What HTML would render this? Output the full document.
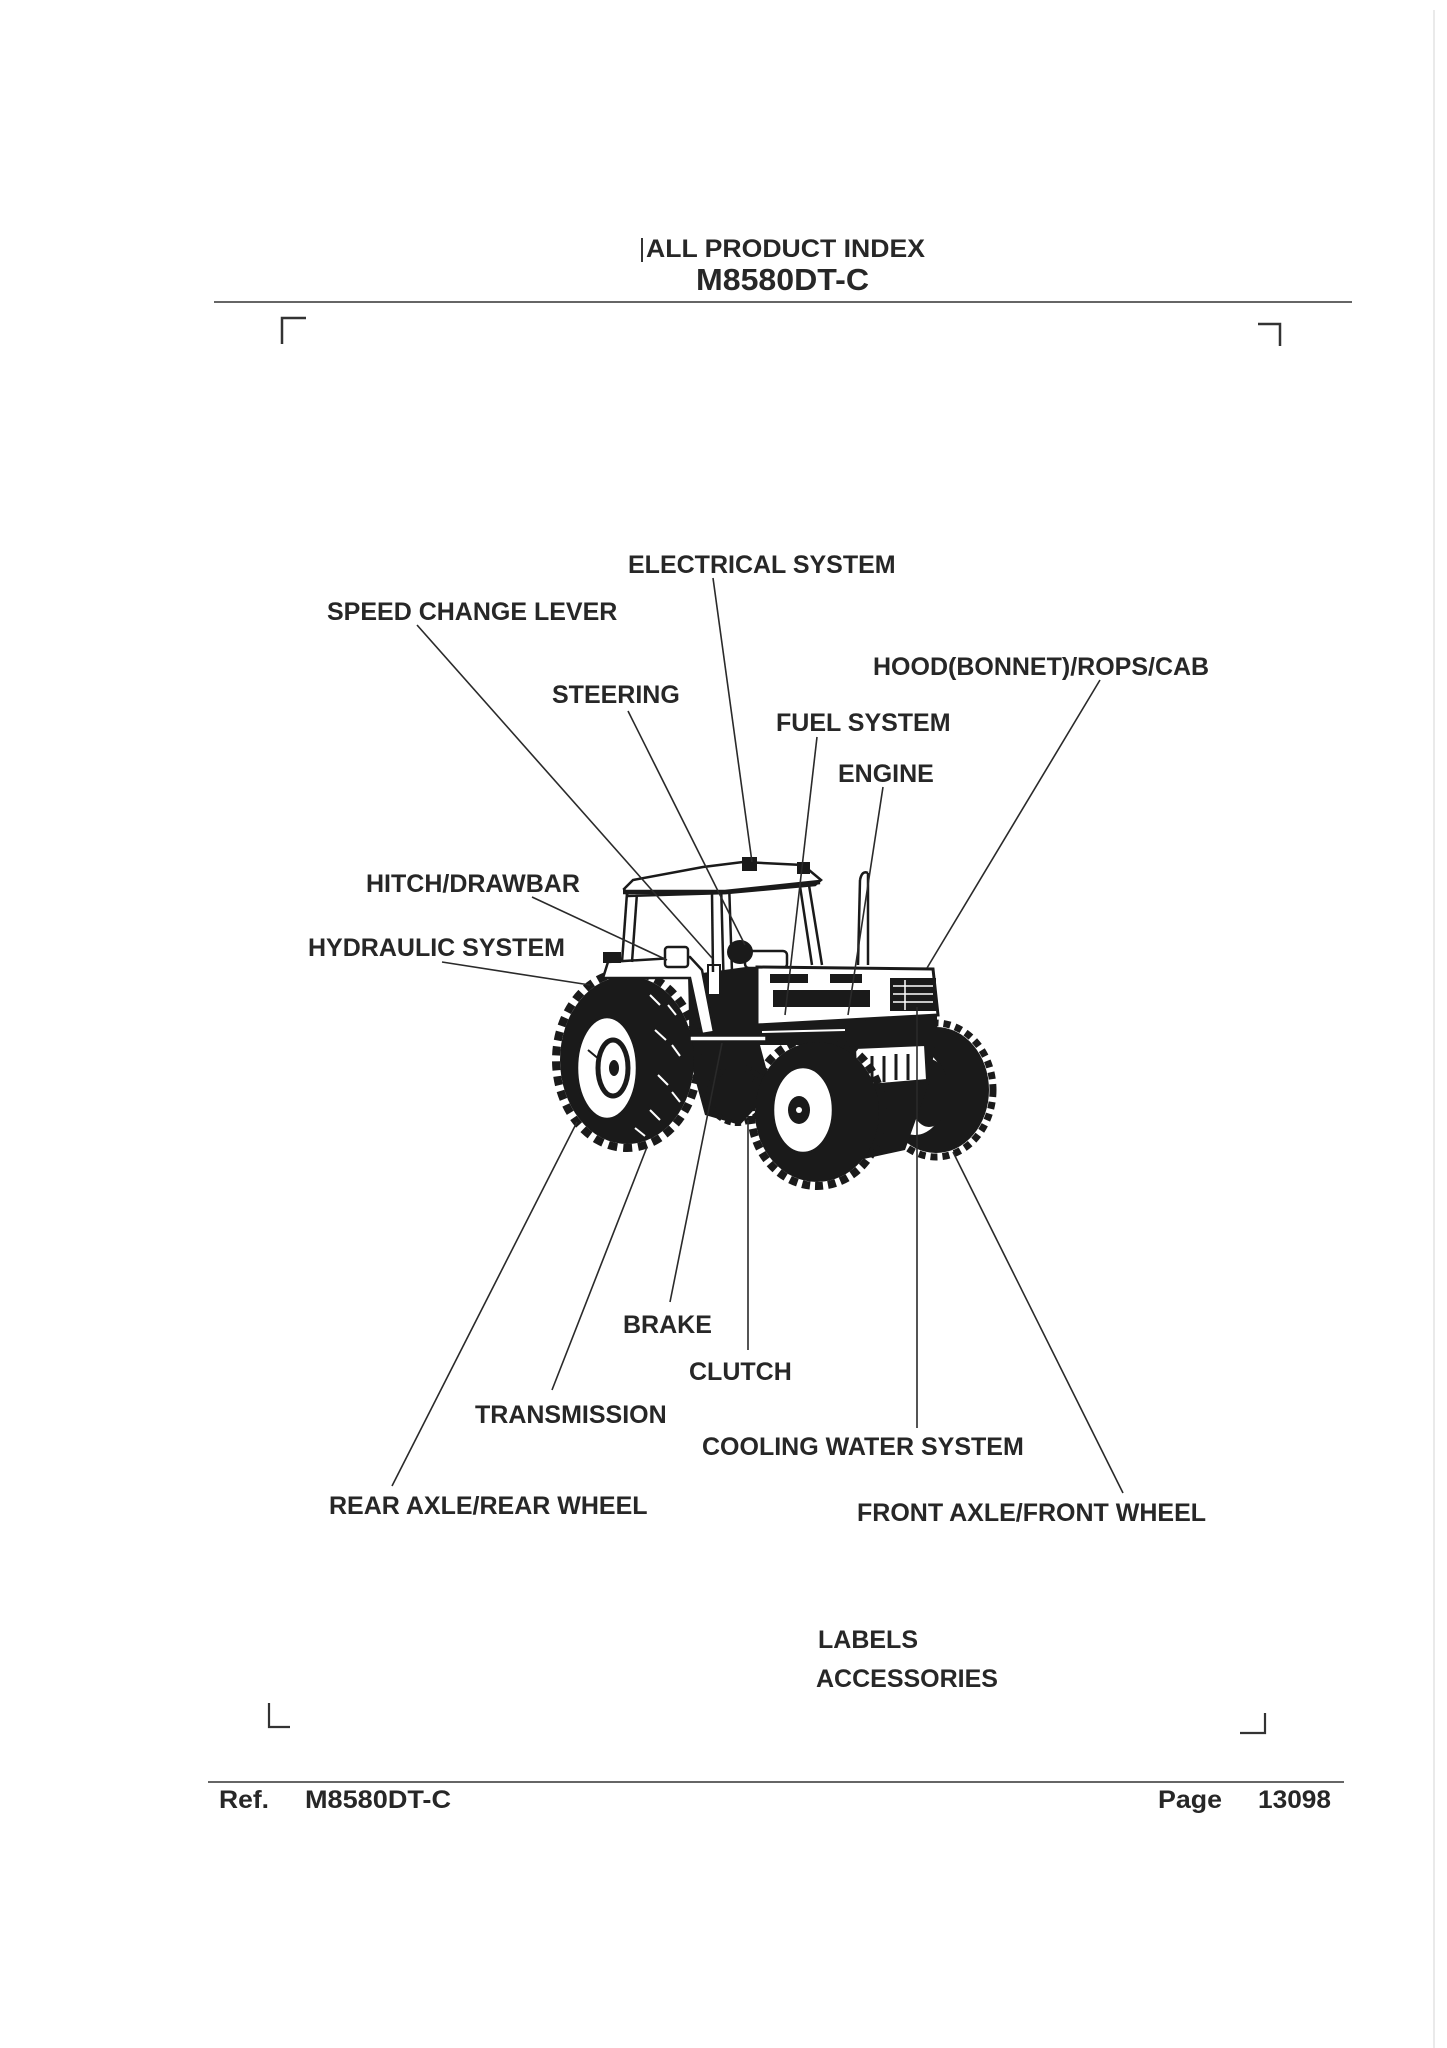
<!DOCTYPE html>
<html><head><meta charset="utf-8">
<style>
html,body{margin:0;padding:0;background:#fff;}
svg{display:block;}
text{font-family:"Liberation Sans",Arial,sans-serif;font-weight:bold;fill:#272727;}
</style></head><body>
<svg width="1447" height="2048" viewBox="0 0 1447 2048" xmlns="http://www.w3.org/2000/svg">
<rect width="1447" height="2048" fill="#fff"/>
<line x1="1434" y1="10" x2="1434" y2="2048" stroke="#e4e4e4" stroke-width="1.5"/>

<!-- header -->
<line x1="642" y1="238" x2="642" y2="262" stroke="#333" stroke-width="2"/>
<text x="646" y="257" font-size="25" textLength="279" lengthAdjust="spacingAndGlyphs">ALL PRODUCT INDEX</text>
<text x="696" y="290" font-size="31" textLength="173" lengthAdjust="spacingAndGlyphs">M8580DT-C</text>
<line x1="214" y1="302" x2="1352" y2="302" stroke="#333" stroke-width="1.6"/>

<!-- corner marks -->
<polyline points="282,344 282,318 306,318" fill="none" stroke="#333" stroke-width="2.5"/>
<polyline points="1258,324 1280,324 1280,346" fill="none" stroke="#333" stroke-width="2.5"/>
<polyline points="269,1703 269,1727 290,1727" fill="none" stroke="#333" stroke-width="2.2"/>
<polyline points="1240,1733 1265,1733 1265,1713" fill="none" stroke="#333" stroke-width="2.2"/>

<!-- footer -->
<line x1="208" y1="1782" x2="1344" y2="1782" stroke="#333" stroke-width="1.6"/>
<text x="219" y="1808" font-size="25" textLength="50" lengthAdjust="spacingAndGlyphs">Ref.</text>
<text x="305" y="1808" font-size="25" textLength="146" lengthAdjust="spacingAndGlyphs">M8580DT-C</text>
<text x="1158" y="1808" font-size="25" textLength="64" lengthAdjust="spacingAndGlyphs">Page</text>
<text x="1258" y="1808" font-size="25" textLength="73" lengthAdjust="spacingAndGlyphs">13098</text>

<!-- ===== TRACTOR ===== -->
<g id="tractor">
  <!-- right front tire (far) -->
  <ellipse cx="936" cy="1090" rx="53" ry="63" fill="#1a1a1a"/>
  <ellipse cx="936" cy="1090" rx="57" ry="67" fill="none" stroke="#1a1a1a" stroke-width="7" stroke-dasharray="7 5"/>
  <ellipse cx="915" cy="1092" rx="32" ry="44" fill="#fff" stroke="#1a1a1a" stroke-width="2"/>
  <ellipse cx="929" cy="1093" rx="20" ry="34" fill="#1a1a1a"/>

  <!-- dark mass under front -->
  <polygon points="833,1040 937,1030 930,1080 905,1150 850,1162 830,1120" fill="#1a1a1a"/>
  <polygon points="855,1048 925,1045 927,1080 857,1086" fill="#fff" stroke="#1a1a1a" stroke-width="2"/>
  <g stroke="#1a1a1a" stroke-width="3">
    <line x1="872" y1="1056" x2="872" y2="1082"/>
    <line x1="884" y1="1056" x2="884" y2="1082"/>
    <line x1="896" y1="1054" x2="896" y2="1080"/>
    <line x1="908" y1="1054" x2="908" y2="1080"/>
  </g>

  <!-- under-hood band -->
  <rect x="757" y="1015" width="180" height="30" fill="#1a1a1a"/>
  <line x1="762" y1="1032" x2="845" y2="1030" stroke="#fff" stroke-width="2"/>

  <!-- body dark mass between rear and front -->
  <polygon points="688,975 760,965 760,1045 772,1090 740,1125 705,1115 690,1060" fill="#1a1a1a"/>
  <ellipse cx="737" cy="1095" rx="28" ry="28" fill="none" stroke="#1a1a1a" stroke-width="6" stroke-dasharray="6 4"/>

  <!-- rear tire (near) -->
  <ellipse cx="627" cy="1060" rx="67" ry="84" fill="#1a1a1a"/>
  <ellipse cx="627" cy="1060" rx="71" ry="88" fill="none" stroke="#1a1a1a" stroke-width="8" stroke-dasharray="9 6"/>
  <g stroke="#fff" stroke-width="2">
    <line x1="650" y1="995" x2="660" y2="1005"/>
    <line x1="668" y1="1005" x2="676" y2="1015"/>
    <line x1="655" y1="1030" x2="666" y2="1040"/>
    <line x1="672" y1="1045" x2="680" y2="1056"/>
    <line x1="658" y1="1075" x2="668" y2="1085"/>
    <line x1="672" y1="1092" x2="680" y2="1102"/>
    <line x1="650" y1="1110" x2="660" y2="1120"/>
    <line x1="635" y1="1128" x2="645" y2="1136"/>
  </g>
  <ellipse cx="607" cy="1068" rx="30" ry="51" fill="#fff" stroke="#1a1a1a" stroke-width="2.5"/>
  <ellipse cx="613" cy="1068" rx="15" ry="28" fill="none" stroke="#1a1a1a" stroke-width="5"/>
  <ellipse cx="614" cy="1068" rx="5" ry="8" fill="#1a1a1a"/>
  <line x1="588" y1="1050" x2="600" y2="1060" stroke="#1a1a1a" stroke-width="2"/>

  <!-- fender -->
  <polygon points="603,978 608,962 690,957 702,970 714,1032 702,1034 690,978" fill="#fff" stroke="#1a1a1a" stroke-width="2.5"/>
  <rect x="603" y="952" width="18" height="11" fill="#1a1a1a"/>

  <!-- frame bar -->
  <rect x="690" y="1036" width="76" height="5" fill="#fff" stroke="#1a1a1a" stroke-width="1.5"/>

  <!-- cab interior -->
  <rect x="665" y="947" width="23" height="20" rx="3" fill="#fff" stroke="#1a1a1a" stroke-width="2.5"/>
  <rect x="745" y="951" width="42" height="17" rx="4" fill="#fff" stroke="#1a1a1a" stroke-width="2.5"/>
  <ellipse cx="740" cy="952" rx="13" ry="12" fill="#1a1a1a"/>
  <rect x="708" y="965" width="12" height="30" fill="#fff" stroke="#1a1a1a" stroke-width="2"/>

  <!-- hood -->
  <polygon points="757,967 933,969 938,1015 757,1025" fill="#fff" stroke="#1a1a1a" stroke-width="3"/>
  <rect x="770" y="974" width="38" height="9" fill="#1a1a1a"/>
  <rect x="830" y="974" width="32" height="9" fill="#1a1a1a"/>
  <rect x="773" y="990" width="97" height="17" fill="#1a1a1a"/>
  <rect x="890" y="978" width="46" height="33" fill="#1a1a1a"/>
  <g stroke="#fff" stroke-width="1.5">
    <line x1="893" y1="986" x2="933" y2="986"/>
    <line x1="893" y1="994" x2="933" y2="994"/>
    <line x1="893" y1="1002" x2="933" y2="1002"/>
    <line x1="905" y1="980" x2="905" y2="1010"/>
  </g>

  <!-- middle front tire (near) -->
  <ellipse cx="817" cy="1112" rx="62" ry="70" fill="#1a1a1a"/>
  <ellipse cx="817" cy="1112" rx="66" ry="74" fill="none" stroke="#1a1a1a" stroke-width="8" stroke-dasharray="8 5"/>
  <ellipse cx="803" cy="1110" rx="30" ry="43" fill="#fff" stroke="#1a1a1a" stroke-width="2.5"/>
  <ellipse cx="799" cy="1110" rx="11" ry="14" fill="#1a1a1a"/>
  <circle cx="799" cy="1110" r="3" fill="#fff"/>

  <!-- posts -->
  <g stroke="#1a1a1a" stroke-width="2.5" fill="none">
    <line x1="627" y1="893" x2="622" y2="962"/>
    <line x1="637" y1="893" x2="632" y2="962"/>
    <line x1="712" y1="893" x2="713" y2="972"/>
    <line x1="721" y1="882" x2="725" y2="1032"/>
    <line x1="729" y1="882" x2="734" y2="1032"/>
    <line x1="798" y1="873" x2="812" y2="965"/>
    <line x1="807" y1="873" x2="822" y2="965"/>
    <line x1="860" y1="880" x2="858" y2="965"/>
    <line x1="868" y1="873" x2="868" y2="965"/>
  </g>
  <path d="M860,880 Q862,870 868,873" fill="none" stroke="#1a1a1a" stroke-width="2.5"/>

  <!-- roof -->
  <polygon points="624,889 633,880 703,867 743,862 803,865 821,880 815,885 727,893 628,896" fill="#fff" stroke="#1a1a1a" stroke-width="2.5"/>
  <polyline points="623,892 725,892 820,882" fill="none" stroke="#1a1a1a" stroke-width="4.5"/>
  <rect x="742" y="857" width="15" height="14" fill="#1a1a1a"/>
  <rect x="797" y="862" width="13" height="12" fill="#1a1a1a"/>
</g>

<!-- leader lines -->
<g stroke="#2a2a2a" stroke-width="1.6" fill="none">
  <line x1="417" y1="625" x2="712" y2="958"/>
  <line x1="713" y1="578" x2="752" y2="862"/>
  <polyline points="628,711 705,865 745,945"/>
  <line x1="817" y1="737" x2="785" y2="1015"/>
  <line x1="883" y1="787" x2="848" y2="1015"/>
  <line x1="1100" y1="680" x2="927" y2="968"/>
  <line x1="532" y1="897" x2="667" y2="960"/>
  <line x1="442" y1="962" x2="590" y2="985"/>
  <line x1="392" y1="1486" x2="577" y2="1122"/>
  <line x1="552" y1="1390" x2="647" y2="1147"/>
  <line x1="670" y1="1302" x2="722" y2="1043"/>
  <line x1="748" y1="1350" x2="748" y2="1120"/>
  <line x1="917" y1="1428" x2="917" y2="1007"/>
  <line x1="1123" y1="1493" x2="953" y2="1152"/>
</g>

<!-- labels -->
<g font-size="25">
  <text x="628" y="573">ELECTRICAL SYSTEM</text>
  <text x="327" y="620">SPEED CHANGE LEVER</text>
  <text x="552" y="703">STEERING</text>
  <text x="873" y="675">HOOD(BONNET)/ROPS/CAB</text>
  <text x="776" y="731">FUEL SYSTEM</text>
  <text x="838" y="782">ENGINE</text>
  <text x="366" y="892">HITCH/DRAWBAR</text>
  <text x="308" y="956">HYDRAULIC SYSTEM</text>
  <text x="623" y="1333">BRAKE</text>
  <text x="689" y="1380">CLUTCH</text>
  <text x="475" y="1423">TRANSMISSION</text>
  <text x="702" y="1455">COOLING WATER SYSTEM</text>
  <text x="329" y="1514">REAR AXLE/REAR WHEEL</text>
  <text x="857" y="1521">FRONT AXLE/FRONT WHEEL</text>
  <text x="818" y="1648">LABELS</text>
  <text x="816" y="1687">ACCESSORIES</text>
</g>
</svg>
</body></html>
